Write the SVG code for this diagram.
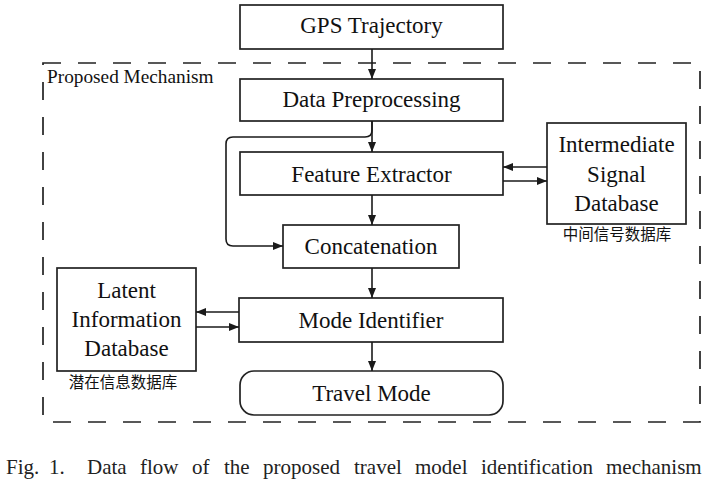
<svg xmlns="http://www.w3.org/2000/svg" width="706" height="485" viewBox="0 0 706 485">
<defs>
<marker id="arr" markerUnits="userSpaceOnUse" markerWidth="12" markerHeight="10" refX="10" refY="4" orient="auto">
<path d="M0,0 L10,4 L0,8 Z" fill="#1a1a1a"/>
</marker>
<style>
.box{fill:#fff;stroke:#222;stroke-width:1.7}
.t{font-family:"Liberation Serif","Times New Roman",serif;font-size:23px;fill:#111;text-anchor:middle}
.cn{font-family:"Noto Sans CJK SC",sans-serif;font-size:15.5px;fill:#111;text-anchor:middle}
.ca{fill:none;stroke:#1a1a1a;stroke-width:1.6;marker-end:url(#arr)}
.cap{font-family:"Liberation Serif","Times New Roman",serif;font-size:21px;fill:#222}
</style>
</defs>
<rect width="706" height="485" fill="#fff"/>
<g id="container">
<rect x="43" y="63" width="657" height="359" fill="none" stroke="#222" stroke-width="1.7" stroke-dasharray="18 17"/>
<text x="47" y="83" font-family="Liberation Serif, serif" font-size="19.3" fill="#111">Proposed Mechanism</text>
</g>
<g id="gps"><rect class="box" x="240" y="5" width="263" height="44"/><text class="t" x="371.5" y="33">GPS Trajectory</text></g>
<g id="preprocess"><rect class="box" x="240" y="79" width="263" height="42"/><text class="t" x="371.5" y="107">Data Preprocessing</text></g>
<g id="extractor"><rect class="box" x="240" y="152" width="263" height="43"/><text class="t" x="371.5" y="182">Feature Extractor</text></g>
<g id="concat"><rect class="box" x="283" y="225" width="176" height="43"/><text class="t" x="371" y="254">Concatenation</text></g>
<g id="isdb"><rect class="box" x="547" y="123" width="139" height="101"/>
<text class="t" x="616.5" y="152">Intermediate</text><text class="t" x="616.5" y="182">Signal</text><text class="t" x="616.5" y="211">Database</text>
<text class="cn" x="617" y="240">中间信号数据库</text></g>
<g id="identifier"><rect class="box" x="239" y="298" width="264" height="44"/><text class="t" x="371" y="328">Mode Identifier</text></g>
<g id="lidb"><rect class="box" x="57" y="268" width="139" height="103"/>
<text class="t" x="126.5" y="298">Latent</text><text class="t" x="126.5" y="327">Information</text><text class="t" x="126.5" y="356">Database</text>
<text class="cn" x="123" y="388">潜在信息数据库</text></g>
<g id="travelmode"><rect class="box" x="240" y="371" width="263" height="44" rx="14"/><text class="t" x="371.5" y="401">Travel Mode</text></g>
<g id="connectors">
<line class="ca" x1="372" y1="49" x2="372" y2="79"/>
<line class="ca" x1="372" y1="121" x2="372" y2="152"/>
<path class="ca" d="M372,121 V130 Q372,137 365,137 H233 Q226,137 226,144 V239 Q226,246 233,246 H283"/>
<line class="ca" x1="372" y1="195" x2="372" y2="225"/>
<line class="ca" x1="547" y1="167" x2="503" y2="167"/>
<line class="ca" x1="503" y1="181" x2="547" y2="181"/>
<line class="ca" x1="372" y1="268" x2="372" y2="298"/>
<line class="ca" x1="239" y1="312" x2="196" y2="312"/>
<line class="ca" x1="196" y1="327" x2="239" y2="327"/>
<line class="ca" x1="372" y1="342" x2="372" y2="371"/>
</g>
<text class="cap" y="474"><tspan x="6">Fig.</tspan><tspan x="49">1.</tspan><tspan x="87">Data</tspan><tspan x="140">flow</tspan><tspan x="192">of</tspan><tspan x="224">the</tspan><tspan x="263">proposed</tspan><tspan x="354">travel</tspan><tspan x="415">model</tspan><tspan x="481">identification</tspan><tspan x="606">mechanism</tspan></text>
</svg>
